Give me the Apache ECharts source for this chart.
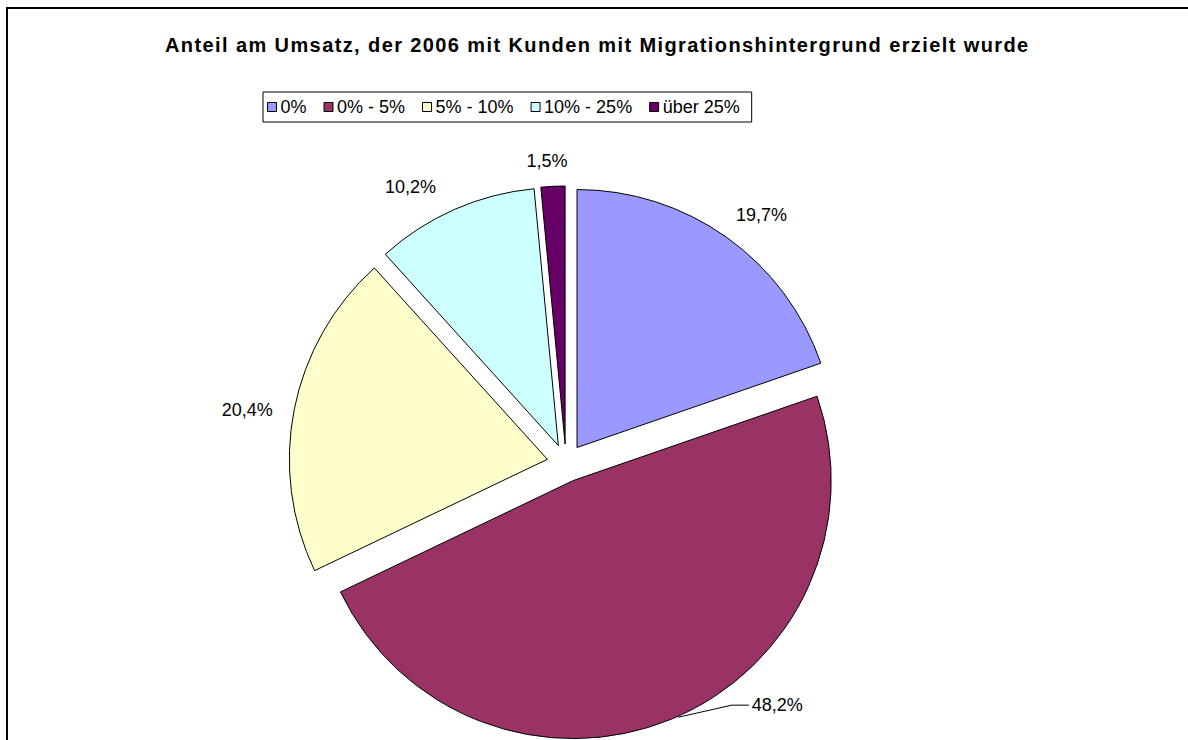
<!DOCTYPE html>
<html>
<head>
<meta charset="utf-8">
<script src="https://cdn.jsdelivr.net/npm/echarts@6/dist/echarts.min.js"></script>
<style>
html,body{margin:0;padding:0;background:#fff;}
#chart{width:1188px;height:740px;}
#chart svg text[font-weight="bold"], #chart svg text[style*="bold"]{letter-spacing:1.4px;}
</style>
</head>
<body>
<div id="chart"></div>
<script>
const titleText = 'Anteil am Umsatz, der 2006 mit Kunden mit Migrationshintergrund erzielt wurde';
const categories = ['0%', '0% - 5%', '5% - 10%', '10% - 25%', 'über 25%'];
const values = [19.7, 48.2, 20.4, 10.2, 1.5];
const colors = ['#9999FF', '#993366', '#FFFFCC', '#CCFFFF', '#660066'];
// small per-label nudges (relative shifts of the default outside label position)
const labelShift = [[-12, 0], [65, -40], [11, 6], [-2, 3], [21, 3]];

const chart = echarts.init(document.getElementById('chart'), null, {renderer: 'svg'});
const font = '"Liberation Sans", Arial, sans-serif';

const data = categories.map((c, i) => ({
  name: c,
  value: values[i],
  selected: true,
  itemStyle: {color: colors[i]},
  labelLine: {show: i === 1}
}));

chart.setOption({
  animation: false,
  backgroundColor: '#fff',
  graphic: [{
    type: 'rect',
    shape: {x: 7, y: 8, width: 1400, height: 1000},
    style: {fill: 'none', stroke: '#000', lineWidth: 2},
    silent: true,
    z: 0
  }],
  title: {
    text: titleText,
    left: 165,
    top: 35,
    padding: 0,
    textStyle: {fontFamily: font, fontSize: 20, fontWeight: 'bold', color: '#000'}
  },
  legend: {
    left: 263,
    top: 92,
    orient: 'horizontal',
    data: categories,
    icon: 'rect',
    itemWidth: 9,
    itemHeight: 9,
    itemGap: 17,
    padding: [6, 12, 6, 4],
    borderColor: '#000',
    borderWidth: 1,
    selectedMode: false,
    textStyle: {fontFamily: font, fontSize: 18, color: '#000', padding: [0, 0, 0, -1]},
    itemStyle: {borderColor: '#000', borderWidth: 1}
  },
  series: [{
    type: 'pie',
    center: [566, 463],
    radius: 258,
    startAngle: 90,
    clockwise: true,
    selectedMode: 'multiple',
    selectedOffset: 19,
    avoidLabelOverlap: false,
    itemStyle: {borderColor: '#000', borderWidth: 1},
    emphasis: {disabled: true},
    label: {
      show: true,
      position: 'outside',
      fontFamily: font,
      fontSize: 18,
      color: '#000',
      formatter: p => p.value.toFixed(1).replace('.', ',') + '%'
    },
    labelLine: {length: 28, length2: 0, lineStyle: {color: '#000', width: 1}},
    labelLayout: p => {
      const s = labelShift[p.dataIndex];
      const out = {dx: s[0], dy: s[1]};
      if (p.labelLinePoints && p.dataIndex === 1) {
        const start = p.labelLinePoints[0];
        const r = p.labelRect;
        const end = [r.x + s[0] - 3, r.y + s[1] + r.height / 2];
        const mid = [end[0] - 17, end[1]];
        out.labelLinePoints = [[start[0] + 7, start[1] - 2], mid, end];
      }
      return out;
    },
    data: data
  }]
});
</script>
</body>
</html>
